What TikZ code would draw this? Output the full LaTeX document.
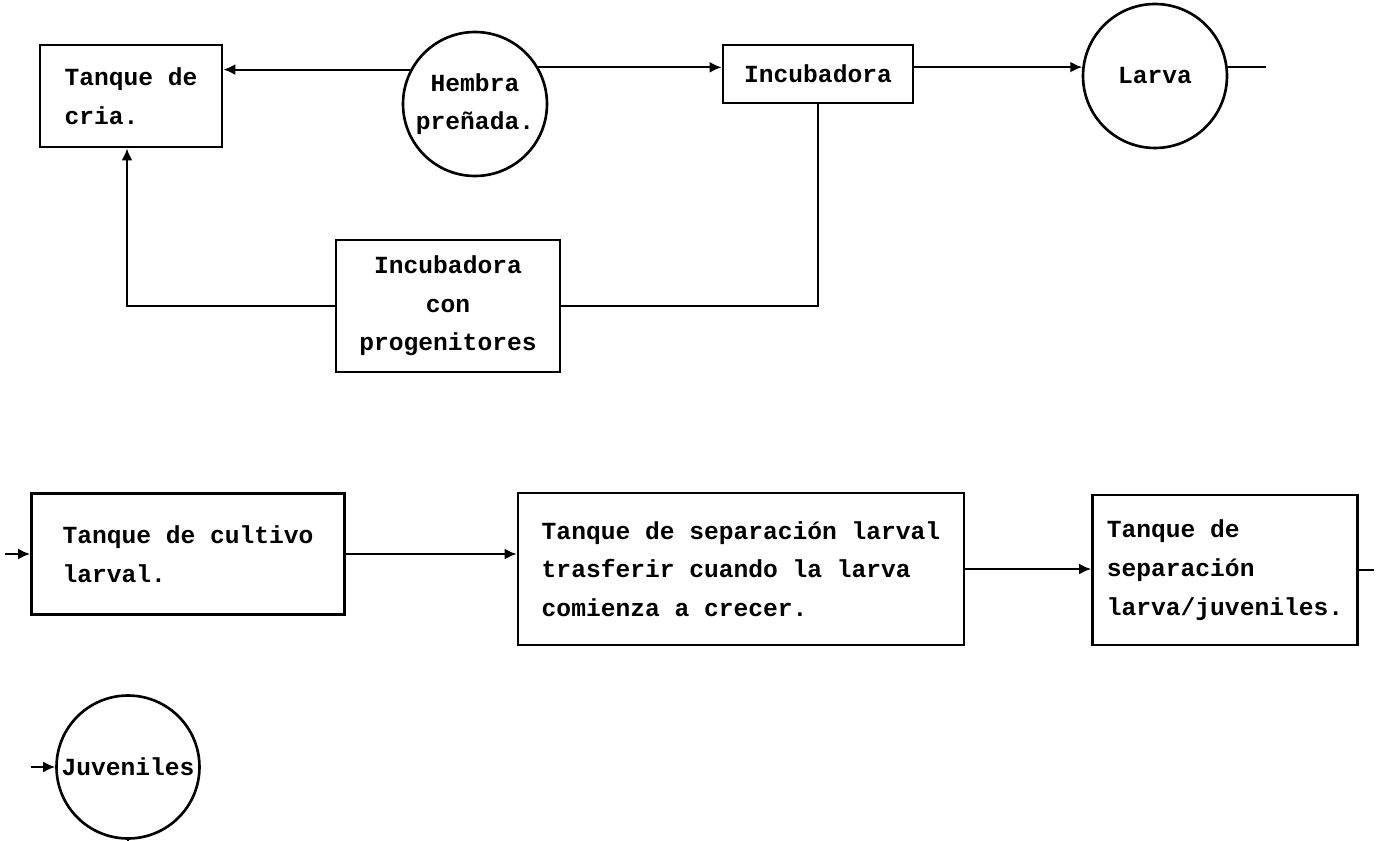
\documentclass[tikz,border=0pt]{standalone}
\usepackage{fontspec}
\setmonofont{Liberation Mono}
\usepackage{tikz}
\usetikzlibrary{shapes.geometric, arrows.meta, positioning}
\tikzstyle{tanque} = [rectangle, line width=1.6pt, draw=black, align=left, font=\ttfamily\bfseries\fontsize{14}{22}\selectfont]
\tikzstyle{estado} = [circle, line width=1.5pt, draw=black, inner sep=0pt, minimum size=2.88cm, align=center, font=\ttfamily\bfseries\fontsize{14}{22}\selectfont]
\tikzstyle{arrow} = [line width=1.2pt,->,>={Latex[length=2.4mm,width=2.2mm]}]
\tikzstyle{line} = [line width=1.2pt]

\begin{document}
\begin{tikzpicture}[x=0.02cm, y=-0.02cm]
		\useasboundingbox (0,0) rectangle (1379,841);
		\node (cria) [tanque, minimum width=3.64cm, minimum height=2.04cm] at (131,96) {Tanque de\\cria.};
		\node (hembra) [estado] at (475,104) {Hembra\\preñada.};
		\node (incub) [tanque, align=center, minimum width=3.8cm, minimum height=1.16cm] at (818,74) {Incubadora};
		\node (larva) [estado] at (1155,76) {Larva};
		\node (progen) [tanque, align=center, minimum width=4.48cm, minimum height=2.64cm] at (448,306) {Incubadora\\con\\progenitores};

		\node (cultivo) [tanque, minimum width=6.26cm, minimum height=2.42cm] at (188,554) {Tanque de cultivo\\larval.};
		\node (separacion) [tanque, minimum width=8.92cm, minimum height=3.04cm] at (741,569) {Tanque de separación larval\\trasferir cuando la larva\\comienza a crecer.};
		\node (juvsep) [tanque, minimum width=5.3cm, minimum height=3cm] at (1225,570) {Tanque de\\separación\\larva/juveniles.};
		\node (juveniles) [estado, minimum size=2.86cm] at (128,767) {Juveniles};

		\coordinate [right=0.76cm of larva.7] (larvaout);
		\coordinate [left=0.5cm of cultivo.west] (cultivoin);
		\coordinate [right=0.3cm of juvsep.east] (juvsepout);
		\coordinate [left=0.48cm of juveniles.west] (juvenilesin);
		\coordinate [below=0.2cm of juveniles.south] (juvenilesout);

		\draw [arrow] (hembra.152) -- (hembra.152 -| cria.east);
		\draw [arrow] (hembra.30) -- (hembra.30 -| incub.west);
		\draw [arrow] (larva.173 -| incub.east) -- (larva.173);
		\draw [line] (larva.7) -- (larvaout);
		\draw [line] (incub.south) |- (progen.east);
		\draw [arrow] (progen.west) -| ([xshift=-0.08cm]cria.south);
		\draw [arrow] (cultivoin) -- (cultivo.west);
		\draw [arrow] (cultivo.east) -- (cultivo.east -| separacion.west);
		\draw [arrow] (separacion.east) -- (separacion.east -| juvsep.west);
		\draw [line] (juvsep.east) -- (juvsepout);
		\draw [arrow] (juvenilesin) -- (juveniles.west);
		\draw [line] (juveniles.south) -- (juvenilesout);
		\end{tikzpicture}
\end{document}
